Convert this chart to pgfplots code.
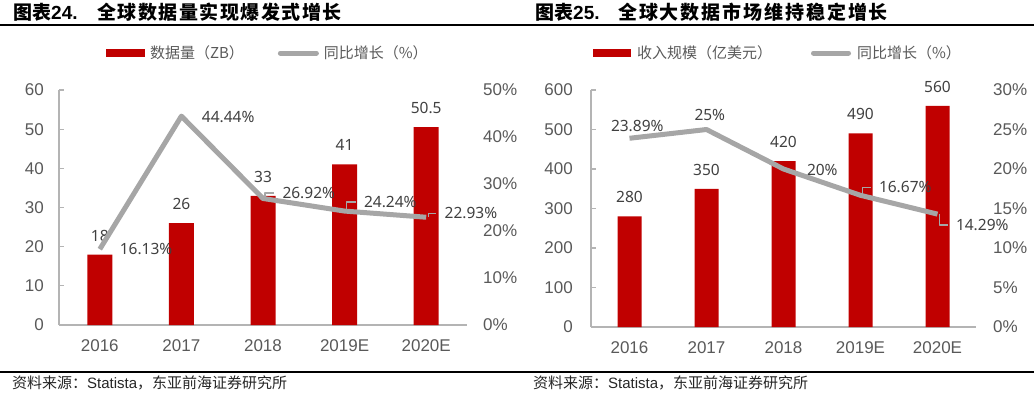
\documentclass[border=0pt]{standalone}
\usepackage{fontspec}
\setmainfont{Liberation Sans}
\newfontfamily\cjk{Noto Sans CJK SC}
\newfontfamily\lblfam{Noto Sans}
\usepackage{pgfplots}
\usepackage{pgfplotstable}
\pgfplotsset{compat=1.18}
\definecolor{barred}{HTML}{C00000}
\definecolor{linegray}{HTML}{A6A6A6}
\definecolor{axisgray}{HTML}{B4B4B4}
\definecolor{tickgray}{HTML}{595959}
\definecolor{lblgray}{HTML}{404040}
\newcommand\tickfont{\fontsize{17}{17}\selectfont}
\newcommand\lblfont{\lblfam\fontsize{15.5}{15.5}\selectfont}
\newcommand\legfont{\cjk\fontsize{15}{15}\selectfont}

\pgfplotstableread{
x y lbl
0 18 18
1 26 26
2 33 33
3 41 41
4 50.5 50.5
}\volA
\pgfplotstableread{
x y lbl dx dy ld
0 16.13 16.13 17.5 0 0
1 44.44 44.44 18 -1 0
2 26.92 26.92 17 5.5 1
3 24.24 24.24 17 9 1
4 22.93 22.93 16 4 1
}\growA
\pgfplotstableread{
x y lbl
0 280 280
1 350 350
2 420 420
3 490 490
4 560 560
}\volB
\pgfplotstableread{
x y lbl dx dy ld
0 23.89 23.89 -21 12 0
1 25 25 -14.5 14.5 0
2 20 20 21 -1 0
3 16.67 16.67 16 8 1
4 14.29 14.29 16 -11 1
}\growB

\pgfplotsset{
  base/.style={
    scale only axis, anchor=south west,
    xmin=-0.5, xmax=4.5,
    /pgf/number format/assume math mode=true,
    tick label style={font=\tickfont, text=tickgray},
  },
  primary/.style={
    base,
    axis x line*=bottom, axis y line*=left,
    axis line style={-, draw=axisgray, line width=1.3pt},
    xtick={0,...,4}, xticklabels={2016,2017,2018,2019E,2020E},
    xtick style={draw=none},
    ytick style={draw=axisgray, line width=1.3pt},
    tick align=inside, major tick length=5pt,
    xticklabel style={anchor=base, inner sep=0pt, yshift=-26pt},
    legend columns=2,
    legend style={draw=none, fill=none, inner sep=0pt, outer sep=0pt,
      font=\legfont, text=tickgray, anchor=west,
      nodes={inner sep=0pt, outer sep=0pt}},
  },
  secondary/.style={
    base,
    axis x line=none, axis y line*=right,
    y axis line style={draw=none}, ytick style={draw=none},
    yticklabel={\pgfmathprintnumber{\tick}\%},
  },
  bars/.style={
    ybar, fill=barred, draw=none,
    nodes near coords, point meta=explicit symbolic,
    every node near coord/.append style={anchor=base, inner sep=0pt, yshift=13.5pt, font=\lblfont, text=lblgray},
    legend image code/.code={\fill[barred] (0pt,-3.7pt) rectangle (#1,3.7pt);},
  },
  growth/.style={
    line width=5pt, color=linegray, line join=round, no marks,
    nodes near coords={\pgfplotspointmeta\%}, point meta=explicit symbolic,
    visualization depends on={\thisrow{dx}\as\dx},
    visualization depends on={\thisrow{dy}\as\dy},
    visualization depends on={\thisrow{ld}\as\ld},
    every node near coord/.append style={anchor=west, inner sep=0pt,
      xshift=\dx pt, yshift=\dy pt, font=\lblfont, text=lblgray,
      append after command={([xshift=-6pt]\tikzlastnode.west) edge[draw=linegray, line width=1.4pt, draw opacity=\ld, to path={-| (\tikztotarget)}] ++({(8-\dx)*1pt},{-\dy*1pt})}},
  },
}

\begin{document}
\begin{tikzpicture}
\useasboundingbox (0,0) rectangle (1034pt,-394pt);
% titles and rules
\node[anchor=west, inner sep=0pt] at (13pt,-12.5pt) {\fontsize{19}{19}\selectfont\bfseries{\cjk 图表}24.};
\node[anchor=west, inner sep=0pt] at (97pt,-12.5pt) {\cjk\fontsize{19}{19}\selectfont\bfseries\addfontfeature{LetterSpace=8}全球数据量实现爆发式增长};
\node[anchor=west, inner sep=0pt] at (535pt,-12.5pt) {\fontsize{19}{19}\selectfont\bfseries{\cjk 图表}25.};
\node[anchor=west, inner sep=0pt] at (618pt,-12.5pt) {\cjk\fontsize{19}{19}\selectfont\bfseries\addfontfeature{LetterSpace=10}全球大数据市场维持稳定增长};
\draw[line width=1.3pt, black] (0pt,-25pt) -- (1034pt,-25pt);
\draw[line width=1.3pt, black] (0pt,-372pt) -- (1034pt,-372pt);
\node[anchor=west, inner sep=0pt, text=black!85] at (12pt,-383pt) {\fontsize{15}{15}\selectfont{\cjk 资料来源：}Statista{\cjk ，东亚前海证券研究所}};
\node[anchor=west, inner sep=0pt, text=black!85] at (533pt,-383pt) {\fontsize{15}{15}\selectfont{\cjk 资料来源：}Statista{\cjk ，东亚前海证券研究所}};

% ---------- left panel ----------
\begin{axis}[primary, at={(59pt,-325pt)}, width=408pt, height=235pt,
  ymin=0, ymax=60, ytick={0,10,...,60},
  yticklabel style={anchor=east, inner sep=0pt, xshift=-15pt},
  legend style={at={(0.1152,1.157)},
    /tikz/every odd column/.append style={column sep=5pt},
    /tikz/every even column/.append style={column sep=34pt}},
]
\addplot[bars=39pt, bar width=25pt] table[x=x, y=y, meta=lbl] {\volA};
\addlegendentry{数据量（ZB）}
\addlegendimage{legend image code/.code={\draw[line width=5pt, linegray, line cap=round] (2.5pt,0pt) -- (38.5pt,0pt);}}
\addlegendentry{同比增长（\%）}
\end{axis}
\begin{axis}[secondary, at={(59pt,-325pt)}, width=408pt, height=235pt,
  ymin=0, ymax=50, ytick={0,10,...,50},
  yticklabel style={anchor=west, inner sep=0pt, xshift=16pt},
]
\addplot[growth] table[x=x, y=y, meta=lbl] {\growA};
\end{axis}

% ---------- right panel ----------
\begin{axis}[primary, at={(591pt,-327pt)}, width=385pt, height=237pt,
  ymin=0, ymax=600, ytick={0,100,...,600},
  yticklabel style={anchor=east, inner sep=0pt, xshift=-18pt},
  legend style={at={(0.0052,1.156)},
    /tikz/every odd column/.append style={column sep=6pt},
    /tikz/every even column/.append style={column sep=39pt}},
]
\addplot[bars=38pt, bar width=24pt] table[x=x, y=y, meta=lbl] {\volB};
\addlegendentry{收入规模（亿美元）}
\addlegendimage{legend image code/.code={\draw[line width=5pt, linegray, line cap=round] (2.5pt,0pt) -- (37.5pt,0pt);}}
\addlegendentry{同比增长（\%）}
\end{axis}
\begin{axis}[secondary, at={(591pt,-327pt)}, width=385pt, height=237pt,
  ymin=0, ymax=30, ytick={0,5,...,30},
  yticklabel style={anchor=west, inner sep=0pt, xshift=17pt},
]
\addplot[growth] table[x=x, y=y, meta=lbl] {\growB};
\end{axis}
\end{tikzpicture}
\end{document}
